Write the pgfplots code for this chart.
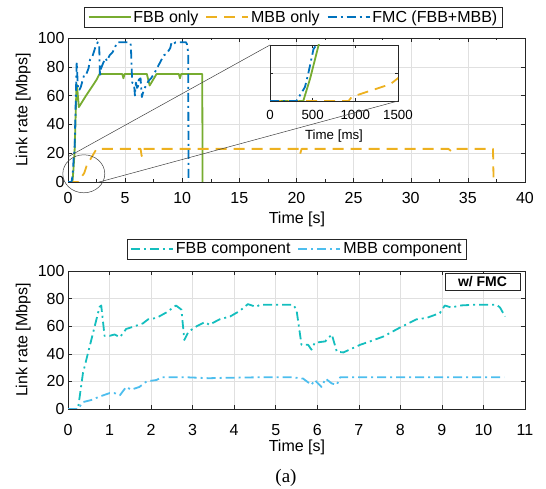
\documentclass[border=0pt]{standalone}
\usepackage{fontspec}
\setmainfont{Liberation Sans}
\newfontfamily\seriffont{Liberation Serif}
\usepackage{pgfplots}
\usepackage{pgfplotstable}
\pgfplotsset{compat=1.18}

\definecolor{cgreen}{RGB}{119,172,48}
\definecolor{cyellow}{RGB}{237,177,32}
\definecolor{cblue}{RGB}{0,114,189}
\definecolor{cteal}{RGB}{20,190,190}
\definecolor{clight}{RGB}{77,190,238}
\definecolor{axgray}{RGB}{38,38,38}

% top chart: time [s], link rate [Mbps]
\pgfplotstableread{
t v
0 0
0.39 0
0.47 8
0.57 20
0.62 32
0.75 68
0.80 66
0.95 52
1.5 59
2.0 65
2.5 71
2.75 75
4.75 75
4.85 72
4.95 75
6.9 75
7.15 67
7.75 75
9.7 75
9.8 72
9.9 75
11.75 75
11.78 0
}\fbbonly

\pgfplotstableread{
t v
0 0
0.92 0
0.96 1.5
1.41 6
1.64 11.5
2.2 19
2.5 23
6.35 23
6.45 18
6.55 23
20.2 23
20.3 19
20.45 23
33.3 23
33.6 21
33.9 23
37.2 23
37.25 0
}\mbbonly

\pgfplotstableread{
t v
0 0
0.31 0
0.41 5
0.45 10
0.51 18.6
0.57 21
0.76 83
0.88 64
1.0 64
1.12 66
1.4 74
1.56 74
1.8 79
1.93 85
2.13 87
2.37 93
2.6 97
2.73 95
2.8 73
2.9 79
3.1 83
3.3 86
3.4 84
3.65 88
3.9 90
4.13 94
4.33 97
4.53 97
5.42 97
5.5 95
5.62 69
5.78 68
5.86 60
5.94 69
6.1 64
6.19 71
6.35 72
6.47 59
6.63 64
7.03 70
7.27 72
7.59 76
7.99 82
8.39 88
8.63 89
8.95 93
9.07 97
9.23 96
9.43 97
10.32 97
10.4 96
10.52 90
10.55 0
}\fmc

% bottom chart
\pgfplotstableread{
t v
0 0
0.24 0
0.36 26
0.56 50
0.76 74
0.80 75
0.88 53
1.0 53
1.12 54
1.25 52
1.4 58
1.56 59.5
1.8 62
1.93 65
2.13 66
2.37 70
2.6 75
2.73 72
2.8 50
2.9 56
3.1 60
3.3 63
3.4 61
3.65 65
3.9 67
4.13 71
4.33 76
4.53 74
4.62 75.5
5.42 75.5
5.5 72
5.62 46.5
5.78 46.5
5.86 43
5.94 48
6.19 49
6.35 54
6.47 41.5
6.63 41
7.03 46.5
7.27 49
7.59 52.5
7.99 59
8.39 65
8.63 66
8.95 69.5
9.07 75
9.23 73.5
9.43 75
9.75 75.5
10.32 75.5
10.4 73.5
10.52 67
}\fbbcomp

\pgfplotstableread{
t v
0 0
0.24 0
0.36 5
0.56 6.5
0.76 9
1.0 11.5
1.12 11.5
1.25 10
1.4 16
1.52 14
1.72 16
1.89 20
2.13 21
2.25 23
2.85 23
3.4 22.3
3.6 22.5
4.62 23
5.4 23
5.66 22
5.86 17.5
5.94 21
6.1 16
6.2 22
6.35 18.5
6.47 17.5
6.55 23
10.5 23
}\mbbcomp

\pgfplotsset{
  mainax/.style={
    scale only axis,
    no marks,
    axis line style={draw=axgray, line width=0.6bp},
    tick align=inside,
    major tick length=4bp, minor tick length=2.5bp,
    tick style={draw=axgray, line width=0.5bp},
    grid=major,
    major grid style={draw=black!12, line width=0.5bp},
    scaled ticks=false,
    /pgf/number format/assume math mode=true,
    /pgf/number format/1000 sep={},
    tick label style={font=\fontsize{16bp}{19bp}\selectfont},
    xticklabel style={yshift=-7bp},
    label style={font=\fontsize{16bp}{19bp}\selectfont},
    xlabel style={anchor=center},
    ylabel style={at={(axis description cs:-0.098,0.5)}, anchor=center},
    legend style={font=\fontsize{16bp}{19bp}\selectfont, draw=axgray,
      line width=0.6bp, fill=white, inner xsep=3bp, inner ysep=1.5bp,
      /tikz/every even column/.append style={column sep=5bp}},
    legend image code/.code={\draw[##1] (0bp,0bp) -- (42bp,0bp);},
  },
  ln/.style={line width=1.8bp, line join=round},
  dashdot/.style={dash pattern=on 9bp off 4bp on 2bp off 4bp},
  dashed long/.style={dash pattern=on 11bp off 7bp},
}

\begin{document}
\begin{tikzpicture}
\useasboundingbox (0,0) rectangle (546bp,489bp);

% top chart
\begin{axis}[mainax,
  at={(68bp,307bp)}, anchor=south west,
  width=457bp, height=144bp,
  xmin=0, xmax=40, ymin=0, ymax=100,
  xtick={0,5,...,40}, ytick={0,20,...,100},
  minor x tick num=1,
  xlabel={Time [s]}, ylabel={Link rate [Mbps]},
  xlabel style={at={(axis description cs:0.501,-0.262)}},
  legend columns=3,
  legend style={at={(axis description cs:0.4934,1.144)}, anchor=center},
]
\addplot[ln, cgreen] table {\fbbonly};
\addlegendentry{FBB only}
\addplot[ln, cyellow, dashed long] table {\mbbonly};
\addlegendentry{MBB only}
\addplot[ln, cblue, dashdot] table {\fmc};
\addlegendentry{FMC (FBB+MBB)}
\end{axis}

% inset, first 1.5 s in ms
\begin{axis}[
  scale only axis, no marks,
  at={(270bp,388bp)}, anchor=south west,
  width=128bp, height=56bp,
  xmin=0, xmax=1500, ymin=0, ymax=20,
  xtick={0,500,1000,1500}, ytick={10}, yticklabels={},
  ymajorgrids, major grid style={draw=black!12, line width=0.5bp},
  axis line style={draw=axgray, line width=0.6bp},
  tick align=inside, major tick length=3bp,
  tick style={draw=axgray, line width=0.5bp},
  /pgf/number format/assume math mode=true,
  /pgf/number format/1000 sep={},
  tick label style={font=\fontsize{13.3bp}{16bp}\selectfont},
  xticklabel style={yshift=-5.5bp},
  xlabel={Time [ms]},
  label style={font=\fontsize{13.3bp}{16bp}\selectfont},
  xlabel style={at={(axis description cs:0.5,-0.62)}, anchor=center},
]
\addplot[ln, cgreen] table[x expr=\thisrow{t}*1000, y=v] {\fbbonly};
\addplot[ln, cyellow, dashed long] table[x expr=\thisrow{t}*1000, y=v] {\mbbonly};
\addplot[ln, cblue, dashdot] table[x expr=\thisrow{t}*1000, y=v] {\fmc};
\end{axis}

% zoom marker
\draw[black!75, line width=0.5bp] (83.8bp,315.2bp) ellipse [x radius=21bp, y radius=19bp];
\draw[black!75, line width=0.5bp] (68.3bp,332.3bp) -- (270bp,444bp);
\draw[black!75, line width=0.5bp] (96.7bp,306.3bp) -- (398bp,388bp);

% bottom chart
\begin{axis}[mainax,
  at={(68bp,80bp)}, anchor=south west,
  width=457bp, height=138bp,
  xmin=0, xmax=11, ymin=0, ymax=100,
  xtick={0,1,...,11}, ytick={0,20,...,100},
  xticklabel style={yshift=-5bp},
  xlabel={Time [s]}, ylabel={Link rate [Mbps]},
  xlabel style={at={(axis description cs:0.501,-0.275)}},
  legend columns=2,
  legend style={at={(axis description cs:0.5007,1.159)}, anchor=center},
]
\addplot[ln, cteal, dashdot] table {\fbbcomp};
\addlegendentry{FBB component}
\addplot[ln, clight, dashdot] table {\mbbcomp};
\addlegendentry{MBB component}
\end{axis}

\node[draw=axgray, line width=0.6bp, fill=white, minimum width=75bp, minimum height=17bp,
  inner sep=0pt, font=\fontsize{14bp}{16bp}\selectfont\bfseries] at (482.5bp,207.5bp) {w/ FMC};

\node[font=\seriffont\fontsize{19bp}{22bp}\selectfont] at (286bp,11bp) {(a)};
\end{tikzpicture}
\end{document}
